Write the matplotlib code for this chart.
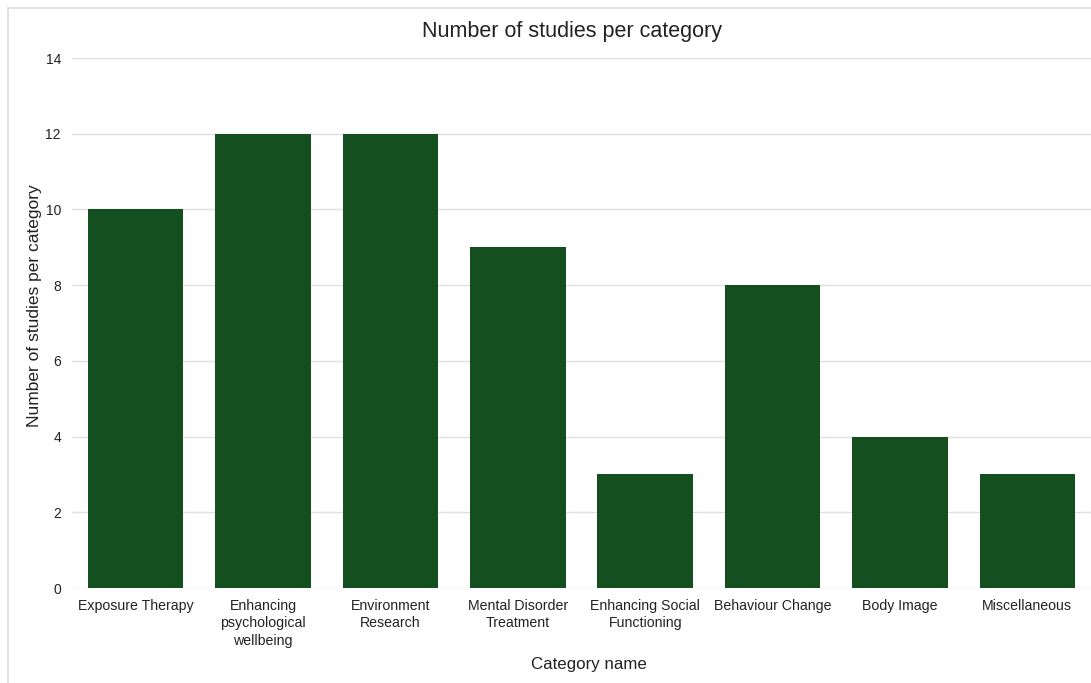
import matplotlib
matplotlib.use("Agg")
import matplotlib.pyplot as plt
from matplotlib.lines import Line2D

plt.rcParams['font.family'] = ['Liberation Sans', 'DejaVu Sans']

categories = ["Exposure Therapy", "Enhancing\npsychological\nwellbeing", "Environment\nResearch",
              "Mental Disorder\nTreatment", "Enhancing Social\nFunctioning", "Behaviour Change",
              "Body Image", "Miscellaneous"]
counts = [10, 12, 12, 9, 3, 8, 4, 3]
yticks = [0, 2, 4, 6, 8, 10, 12, 14]

W, H = 1091, 683
fig = plt.figure(figsize=(W / 100, H / 100), dpi=100)
ax = fig.add_axes([72 / W, 1 - 588 / H, 1 - 72 / W, (588 - 58) / H])

x = range(len(categories))
ax.bar(x, counts, width=0.75, color="#14501f", zorder=2)
ax.set_xlim(-0.5, len(categories) - 0.5)
ax.set_ylim(0, 14)
ax.set_yticks(yticks)
ax.set_xticks(list(x))
ax.set_xticklabels(categories, fontsize=10.2, color="#222222", linespacing=1.3)
ax.tick_params(axis="y", length=0, pad=8, labelsize=10, labelcolor="#222222")
ax.tick_params(axis="x", length=0, pad=8)
ax.grid(axis="y", color="#e0e0e0", linewidth=1, zorder=0)
for s in ax.spines.values():
    s.set_visible(False)

fig.text(589 / W, 1 - 664 / H, "Category name", fontsize=12.2,
         ha="center", va="center", color="#222222")
fig.text(35 / W, 1 - 306 / H, "Number of studies per category", fontsize=12.5,
         rotation=90, ha="center", va="center", color="#222222")
fig.text(572 / W, 1 - 31 / H, "Number of studies per category", fontsize=15.5,
         ha="center", va="center", color="#222222")

# outer frame lines (top and left)
fig.add_artist(Line2D([8 / W, 1], [1 - 8 / H, 1 - 8 / H], color="#dcdcdc", linewidth=1.2,
                      transform=fig.transFigure))
fig.add_artist(Line2D([8 / W, 8 / W], [0, 1 - 8 / H], color="#dcdcdc", linewidth=1.2,
                      transform=fig.transFigure))

fig.savefig("out.png", dpi=100)
